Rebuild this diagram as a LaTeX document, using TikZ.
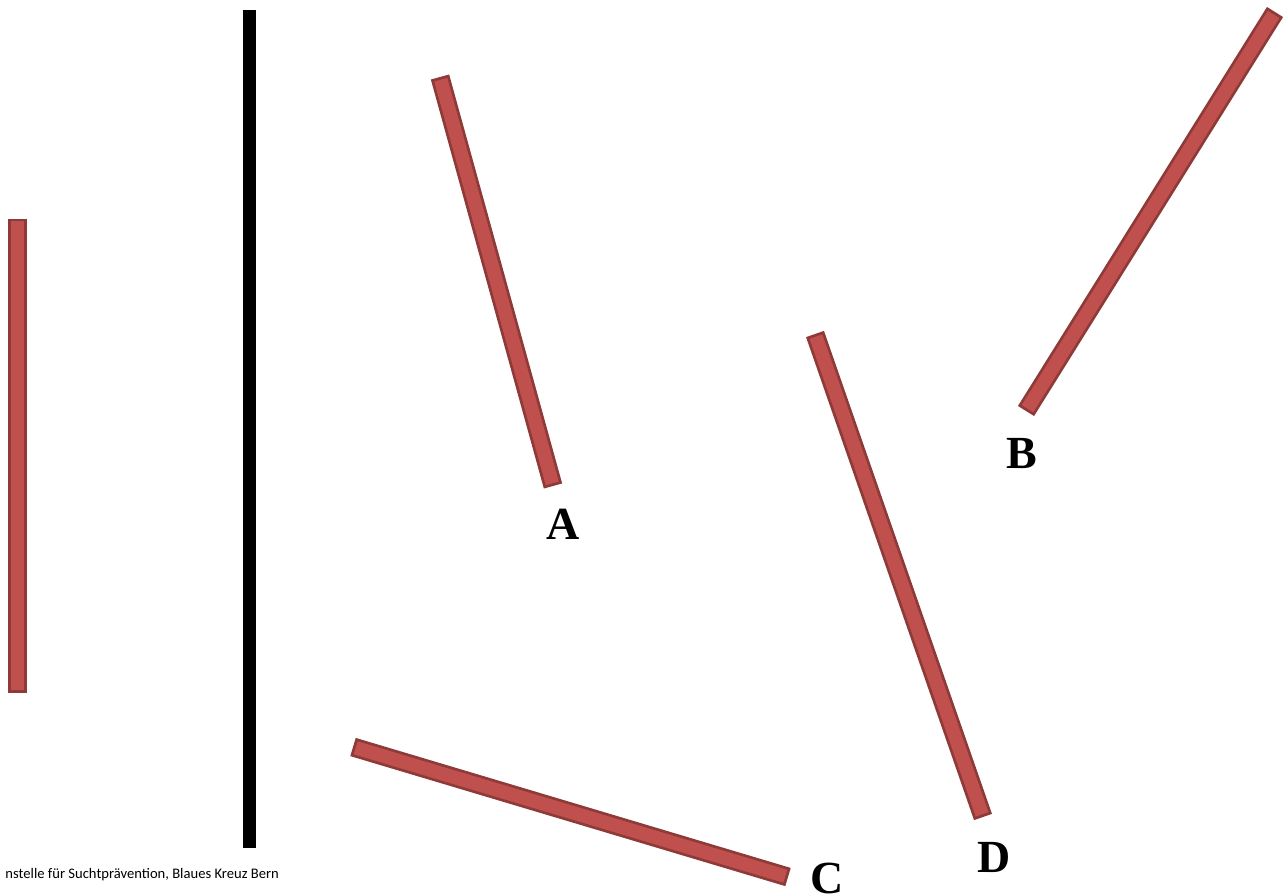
\documentclass[tikz,border=0pt]{standalone}
\usepackage{fontspec}
\setmainfont{Liberation Serif}
\newfontfamily\footfont{Carlito}
\definecolor{barfill}{HTML}{C0504D}
\definecolor{barline}{HTML}{8E3A38}
\begin{document}
\begin{tikzpicture}[x=1pt,y=-1pt,
  barout/.style={line width=19pt,draw=barline,line cap=butt},
  barin/.style={line width=13.5pt,draw=barfill,line cap=butt,shorten <=2.8pt,shorten >=2.8pt},
  lbl/.style={font=\fontsize{46}{46}\selectfont\bfseries,inner sep=0pt}]
\useasboundingbox (0,0) rectangle (1287,895);
% coordinates
\coordinate (l1) at (17.5,218.5);  \coordinate (l2) at (17.5,693);
\coordinate (a1) at (440,77);    \coordinate (a2) at (553,486);
\coordinate (b1) at (1275,12);   \coordinate (b2) at (1026,411);
\coordinate (c1) at (353,747);   \coordinate (c2) at (788,877);
\coordinate (d1) at (815,334);   \coordinate (d2) at (983,817);
\foreach \p/\q in {l1/l2,a1/a2,b1/b2,c1/c2,d1/d2}{
  \draw[barout] (\p) -- (\q);
  \draw[barin] (\p) -- (\q);
}
% black bar
\fill[black] (243,10) rectangle (256,848);
% labels
\node[lbl] (A) at (563,524) {A};
\node[lbl] (B) at (1022,453) {B};
\node[lbl] (C) at (827,878) {C};
\node[lbl] (D) at (994,857) {D};
% footer
\node[anchor=base east,inner sep=0pt,font=\footfont\fontsize{14.6}{15}\selectfont] (foot) at (279,878) {nstelle für Suchtprävention, Blaues Kreuz Bern};
\end{tikzpicture}
\end{document}
